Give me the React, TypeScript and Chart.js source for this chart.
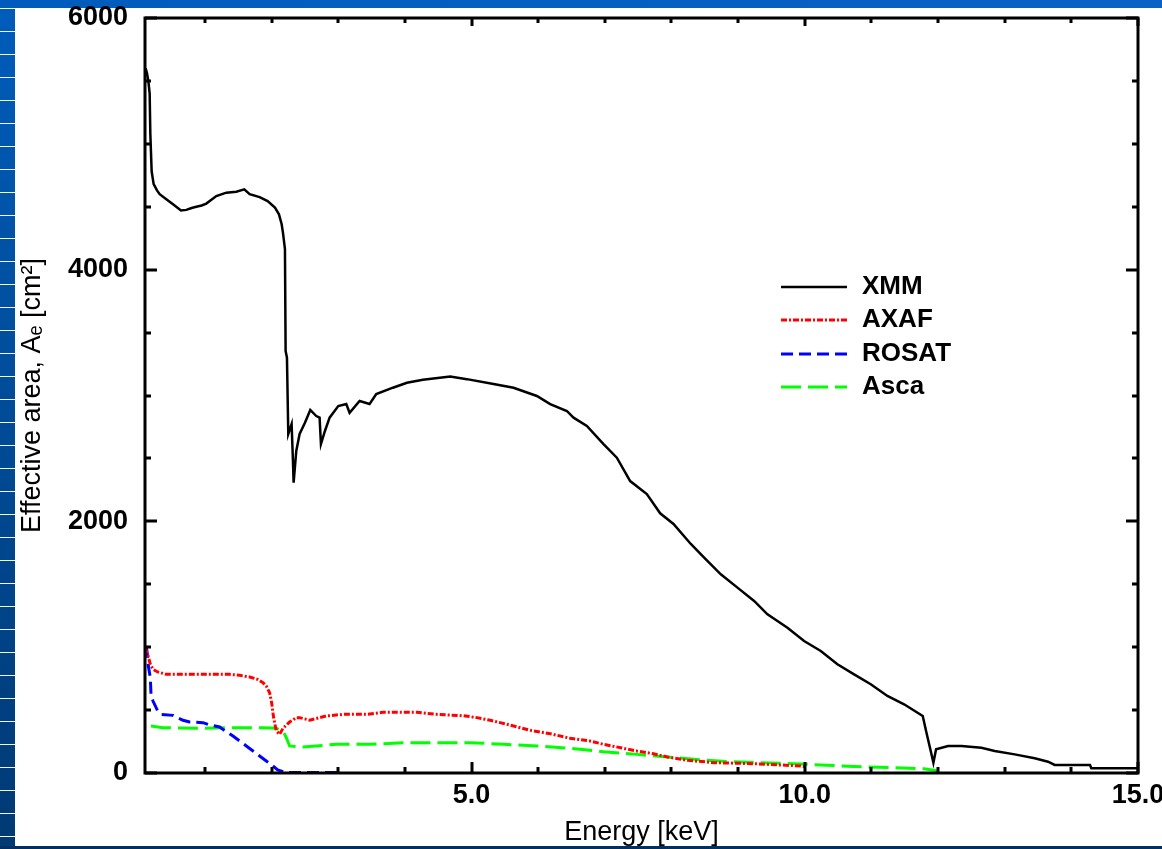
import React, { useEffect, useRef } from 'react';
import { Chart, registerables } from 'chart.js';

Chart.register(...registerables);

// ---------- data ----------
const xmmEnergy = [0.11, 0.13, 0.15, 0.17, 0.18, 0.2, 0.23, 0.28, 0.32, 0.42, 0.52, 0.64, 0.72, 0.8, 0.87, 0.95, 1.02, 1.17, 1.32, 1.47, 1.59, 1.67, 1.82, 1.94, 2.05, 2.11, 2.15, 2.17, 2.2, 2.21, 2.23, 2.25, 2.3, 2.32, 2.33, 2.37, 2.42, 2.5, 2.58, 2.67, 2.72, 2.74, 2.8, 2.87, 3.0, 3.12, 3.17, 3.32, 3.47, 3.57, 3.82, 4.03, 4.27, 4.68, 4.93, 5.33, 5.63, 5.98, 6.18, 6.43, 6.53, 6.73, 6.98, 7.18, 7.38, 7.63, 7.83, 8.03, 8.29, 8.49, 8.74, 8.99, 9.24, 9.44, 9.74, 9.99, 10.24, 10.49, 10.74, 10.99, 11.24, 11.49, 11.77, 11.82, 11.89, 11.93, 11.97, 12.15, 12.35, 12.65, 12.85, 13.15, 13.45, 13.65, 13.75, 14.28, 14.3, 15.0];
const xmmArea = [5600, 5560, 5500, 5400, 5080, 4780, 4680, 4630, 4600, 4560, 4520, 4470, 4475, 4490, 4500, 4510, 4525, 4585, 4612, 4620, 4638, 4600, 4577, 4545, 4493, 4440, 4363, 4294, 4164, 3354, 3300, 2694, 2773, 2480, 2307, 2559, 2694, 2784, 2885, 2837, 2824, 2614, 2718, 2824, 2916, 2932, 2863, 2956, 2932, 3011, 3062, 3101, 3125, 3150, 3130, 3091, 3062, 2996, 2932, 2877, 2824, 2758, 2614, 2506, 2320, 2217, 2064, 1979, 1820, 1711, 1579, 1473, 1367, 1261, 1155, 1049, 970, 864, 784, 705, 612, 546, 453, 334, 175, 82, 188, 215, 215, 201, 175, 148, 117, 90, 64, 64, 37, 37];

const axafEnergy = [0.1, 0.14, 0.18, 0.22, 0.29, 0.42, 0.87, 1.37, 1.52, 1.67, 1.79, 1.87, 1.92, 1.97, 2.0, 2.03, 2.07, 2.12, 2.17, 2.27, 2.37, 2.42, 2.57, 2.82, 3.07, 3.42, 3.67, 4.18, 4.48, 4.88, 5.08, 5.28, 5.58, 5.88, 6.18, 6.48, 6.78, 6.98, 7.28, 7.48, 7.73, 7.94, 8.24, 8.64, 9.24, 9.94, 10.0];
const axafArea = [996, 943, 864, 824, 803, 784, 784, 784, 776, 763, 744, 718, 691, 638, 559, 440, 334, 307, 355, 405, 440, 440, 420, 453, 466, 466, 482, 482, 466, 455, 440, 419, 381, 339, 312, 276, 254, 228, 196, 175, 153, 127, 101, 82, 74, 56, 50];

const rosatEnergy = [0.12, 0.14, 0.15, 0.18, 0.19, 0.22, 0.29, 0.34, 0.52, 0.67, 0.77, 0.97, 1.07, 1.22, 1.29, 1.42, 1.62, 1.82, 1.92, 2.02, 2.09, 2.22, 3.0];
const rosatArea = [1009, 916, 850, 757, 625, 572, 493, 466, 458, 419, 405, 400, 381, 366, 339, 294, 215, 135, 95, 56, 24, 3, 3];

const ascaEnergy = [0.19, 0.37, 0.87, 1.37, 1.87, 2.07, 2.17, 2.22, 2.27, 2.47, 2.97, 3.47, 3.97, 4.48, 4.98, 5.48, 5.98, 6.48, 6.98, 7.48, 7.94, 8.34, 8.84, 9.34, 9.84, 10.34, 10.84, 11.34, 11.79, 12.0];
const ascaArea = [373, 360, 355, 360, 360, 355, 334, 281, 215, 207, 228, 228, 241, 241, 241, 228, 215, 196, 169, 148, 127, 109, 90, 82, 74, 61, 50, 42, 34, 16];

const xTickValues = [1, 2, 3, 4, 5, 6, 7, 8, 9, 10, 11, 12, 13, 14, 15];
const xLabelValues = [5, 10, 15];
const yLabelValues = [0, 2000, 4000, 6000];

const FONT = "'Liberation Sans', Arial, Helvetica, sans-serif";

const toPoints = (xs: number[], ys: number[]) => xs.map((x, i) => ({ x, y: ys[i] }));

const frameTicks = {
  id: 'frameTicks',
  afterDatasetsDraw(chart: any) {
    const { ctx, chartArea } = chart;
    const { left, right, top, bottom } = chartArea;
    const xs = chart.scales.x;
    const ys = chart.scales.y;
    ctx.save();
    ctx.strokeStyle = '#000';
    ctx.lineWidth = 3;
    ctx.beginPath();
    xs.ticks.forEach((t: any) => {
      const px = Math.round(xs.getPixelForValue(t.value));
      const major = xLabelValues.includes(t.value);
      ctx.moveTo(px, bottom);
      ctx.lineTo(px, bottom - (major ? 11 : 6));
      ctx.moveTo(px, top);
      ctx.lineTo(px, top + (major ? 8 : 5));
    });
    ys.ticks.forEach((t: any) => {
      const py = Math.round(ys.getPixelForValue(t.value));
      const major = yLabelValues.includes(t.value);
      const len = major ? 12 : 6;
      ctx.moveTo(left, py);
      ctx.lineTo(left + len, py);
      ctx.moveTo(right, py);
      ctx.lineTo(right - len, py);
    });
    ctx.stroke();
    ctx.lineWidth = 3;
    ctx.strokeRect(left, top, right - left, bottom - top);
    ctx.restore();
  },
  afterDraw(chart: any) {
    const { ctx } = chart;
    ctx.save();
    chart.data.datasets.forEach((ds: any, i: number) => {
      const yy = Math.round(287 + i * 33.3);
      ctx.beginPath();
      ctx.setLineDash(ds.borderDash || []);
      ctx.strokeStyle = ds.borderColor;
      ctx.lineWidth = ds.borderWidth;
      ctx.moveTo(781, yy);
      ctx.lineTo(847, yy);
      ctx.stroke();
      ctx.setLineDash([]);
      ctx.fillStyle = '#000';
      ctx.font = `bold 26px ${FONT}`;
      ctx.textBaseline = 'middle';
      ctx.textAlign = 'left';
      ctx.fillText(ds.label, 862, yy);
    });
    ctx.restore();
  },
};

function EffectiveAreaChart() {
  const canvasRef = useRef<HTMLCanvasElement | null>(null);

  useEffect(() => {
    if (!canvasRef.current) return;
    const chart = new Chart(canvasRef.current, {
      type: 'line',
      data: {
        datasets: [
          {
            label: 'XMM',
            data: toPoints(xmmEnergy, xmmArea),
            borderColor: '#000000',
            borderWidth: 2.5,
            pointRadius: 0,
            fill: false,
            tension: 0,
          },
          {
            label: 'AXAF',
            data: toPoints(axafEnergy, axafArea),
            borderColor: '#ff0000',
            borderWidth: 3,
            borderDash: [6, 2, 2, 2],
            pointRadius: 0,
            fill: false,
            tension: 0,
          },
          {
            label: 'ROSAT',
            data: toPoints(rosatEnergy, rosatArea),
            borderColor: '#0000ff',
            borderWidth: 3,
            borderDash: [12, 6],
            pointRadius: 0,
            fill: false,
            tension: 0,
          },
          {
            label: 'Asca',
            data: toPoints(ascaEnergy, ascaArea),
            borderColor: '#00ff00',
            borderWidth: 3,
            borderDash: [20, 7],
            pointRadius: 0,
            fill: false,
            tension: 0,
          },
        ],
      },
      options: {
        responsive: false,
        animation: false,
        devicePixelRatio: 1,
        events: [],
        layout: { padding: { left: 0, top: 18, right: 24, bottom: 0 } },
        plugins: { legend: { display: false }, tooltip: { enabled: false } },
        scales: {
          x: {
            type: 'linear',
            min: 0.1,
            max: 15,
            grid: { display: false, drawTicks: false, tickLength: 0 },
            border: { display: false },
            afterBuildTicks: (scale: any) => {
              scale.ticks = xTickValues.map((v) => ({ value: v }));
            },
            afterFit: (scale: any) => {
              scale.height = 76;
              scale.paddingLeft = 0;
              scale.paddingRight = 0;
            },
            ticks: {
              autoSkip: false,
              maxRotation: 0,
              padding: 6,
              color: '#000',
              font: { family: FONT, size: 27, weight: 'bold' },
              callback: (v: any) => (xLabelValues.includes(Number(v)) ? Number(v).toFixed(1) : ''),
            },
            title: {
              display: true,
              text: 'Energy [keV]',
              color: '#000',
              font: { family: FONT, size: 27, weight: 'normal' },
              padding: { top: 0, bottom: 0 },
            },
          },
          y: {
            type: 'linear',
            min: 0,
            max: 6000,
            grid: { display: false, drawTicks: false, tickLength: 0 },
            border: { display: false },
            afterFit: (scale: any) => {
              scale.width = 145;
              scale.paddingTop = 0;
              scale.paddingBottom = 0;
            },
            ticks: {
              stepSize: 500,
              autoSkip: false,
              padding: 17,
              color: '#000',
              font: { family: FONT, size: 27, weight: 'bold' },
              callback: (v: any) => (yLabelValues.includes(Number(v)) ? String(v) : ''),
            },
            title: {
              display: true,
              text: 'Effective area, Aₑ [cm²]',
              color: '#000',
              font: { family: FONT, size: 27, weight: 'normal' },
              padding: { top: 16, bottom: 0 },
            },
          },
        },
      },
      plugins: [frameTicks],
    } as any);
    return () => chart.destroy();
  }, []);

  return (
    <canvas
      ref={canvasRef}
      width={1162}
      height={849}
      style={{ position: 'absolute', left: 0, top: 0, width: 1162, height: 849, display: 'block' }}
    />
  );
}

export default function App() {
  return (
    <div
      style={{
        position: 'absolute',
        left: 0,
        top: 0,
        width: 1162,
        height: 849,
        overflow: 'hidden',
        background: '#0a4f9e',
      }}
    >
      <div style={{ position: 'absolute', left: 0, top: 0, width: 1162, height: 8, background: 'linear-gradient(to right, #005cbc, #0a62c4)' }} />
      <div
        style={{
          position: 'absolute',
          left: 0,
          top: 8,
          width: 15,
          height: 841,
          background:
            'repeating-linear-gradient(to bottom, rgba(255,255,255,0.95) 0px, rgba(255,255,255,0.95) 1px, transparent 1px, transparent 23px), linear-gradient(to bottom, #005cba, #003a74)',
        }}
      />
      <div style={{ position: 'absolute', left: 0, top: 846, width: 1162, height: 3, background: '#00305f' }} />
      <div style={{ position: 'absolute', left: 15, top: 8, width: 1147, height: 838, background: '#ffffff' }} />
      <EffectiveAreaChart />
    </div>
  );
}
